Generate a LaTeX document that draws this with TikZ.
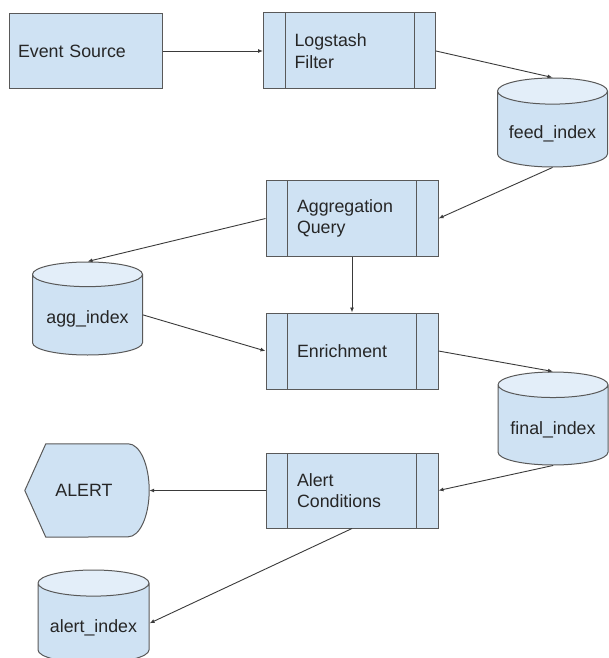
\documentclass[tikz,border=0pt]{standalone}
\usepackage{fontspec}
\setmainfont{Liberation Sans}
\usetikzlibrary{shapes.geometric,arrows.meta}
\definecolor{boxfill}{HTML}{CFE2F3}
\definecolor{topfill}{HTML}{E3EEF9}
\definecolor{edgecol}{HTML}{595959}
\definecolor{conn}{HTML}{3A3A3A}
\begin{document}
\begin{tikzpicture}[x=1pt,y=-1pt,
  every node/.style={font=\fontsize{17.8}{21.5}\selectfont, text=black!85},
  plainbox/.style={draw=edgecol, fill=boxfill, line width=1pt, minimum width=153pt, minimum height=75pt, text width=135pt, inner xsep=9pt, align=left},
  procbox/.style={draw=edgecol, fill=boxfill, line width=1pt, minimum width=172pt, minimum height=76pt, text width=110pt, inner xsep=31pt, align=left,
    path picture={\draw[edgecol, line width=1pt]
      ([xshift=21.5pt]path picture bounding box.north west) -- ([xshift=21.5pt]path picture bounding box.south west)
      ([xshift=-21.5pt]path picture bounding box.north east) -- ([xshift=-21.5pt]path picture bounding box.south east);}},
  db/.style={cylinder, shape border rotate=90, aspect=0.3, draw=edgecol, line width=1pt,
    cylinder uses custom fill, cylinder body fill=boxfill, cylinder end fill=topfill,
    minimum width=110pt, minimum height=91pt, inner sep=0pt, anchor=shape center,
    text height=22pt, text depth=4pt},
  dispbox/.style={minimum width=124pt, minimum height=93pt, inner sep=0pt},
  dispshape/.style={draw=edgecol, fill=boxfill, line width=1pt},
  link/.style={draw=conn, line width=0.9pt, -{Latex[length=5pt,width=4pt]}}
]
\useasboundingbox (0,0) rectangle (608,658);

\node[plainbox] (src) at (85.5,51) {Event Source};
\node[procbox] (logstash) at (349.5,51) {Logstash\\Filter};
\node[db, minimum height=89pt] (feed) at (552.5,122.5) {feed\_index};
\node[procbox] (aggq) at (352,218.5) {Aggregation\\Query};
\node[db, minimum height=93pt] (aggidx) at (87.5,308.5) {agg\_index};
\node[procbox] (enrich) at (352,351) {Enrichment};
\node[db, minimum height=93pt] (final) at (553,418.5) {final\_index};
\node[procbox, minimum height=75pt] (alertc) at (352,490.5) {Alert\\Conditions};
\node[db, minimum width=111pt, minimum height=93pt] (alertidx) at (93.5,616.5) {alert\_index};

\node[dispbox] (alert) at (87,490.5) {};
\draw[dispshape] (alert.west) -- ([xshift=21pt]alert.north west) -- ([xshift=-21pt]alert.north east)
  arc[start angle=90, end angle=-90, x radius=21pt, y radius=46.5pt]
  -- ([xshift=21pt]alert.south west) -- cycle;
\node at ([xshift=-3pt]alert.center) {ALERT};

\draw[link] (src.east) -- (logstash.west);
\draw[link] (logstash.east) -- (feed.north);
\draw[link] (feed.south) -- (aggq.east);
\draw[link] (aggq.west) -- (aggidx.north);
\draw[link] (aggq.south) -- (enrich.north);
\draw[link] (aggidx.east) -- (enrich.west);
\draw[link] (enrich.east) -- (final.north);
\draw[link] (final.south) -- (alertc.east);
\draw[link] (alertc.west) -- (alert.east);
\draw[link] (alertc.south) -- (alertidx.east);
\end{tikzpicture}
\end{document}
